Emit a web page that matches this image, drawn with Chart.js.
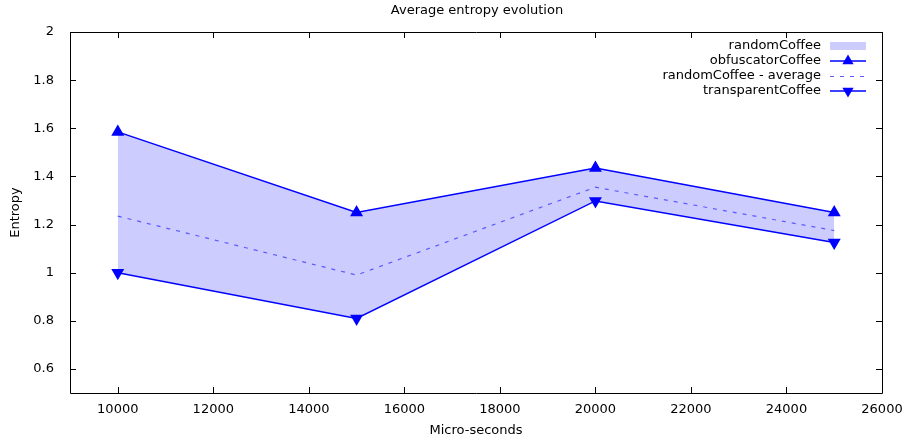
<!DOCTYPE html>
<html>
<head>
<meta charset="utf-8">
<script src="https://cdn.jsdelivr.net/npm/chart.js@4/dist/chart.umd.min.js"></script>
<style>
  html, body { margin: 0; padding: 0; background: #fff; }
  #wrap { width: 907px; height: 443px; }
</style>
</head>
<body>
<div id="wrap"><canvas id="entropyChart" width="907" height="443"></canvas></div>
<script>
// values
const xValues = [10000, 15000, 20000, 25000];
const obfuscatorCoffee = [1.585, 1.25, 1.435, 1.25];
const transparentCoffee = [1.0, 0.81, 1.298, 1.125];
const randomAverage = [1.235, 0.99, 1.355, 1.175];

const xTicks = [10000, 12000, 14000, 16000, 18000, 20000, 22000, 24000, 26000];
const yTicks = [0.6, 0.8, 1, 1.2, 1.4, 1.6, 1.8, 2];
const yTickLabels = ["0.6", "0.8", "1", "1.2", "1.4", "1.6", "1.8", "2"];

const FONT = "DejaVu Sans";
const FSIZE = 13;
const BLUE = "#0000ff";
const FILL = "#ccccff";

function pts(ys) {
  return xValues.map((x, i) => ({ x: x, y: ys[i] }));
}

// gnuplot-ish frame, inward ticks, title and legend
const gnuplotLook = {
  id: "gnuplotLook",
  afterDraw(chart) {
    const ctx = chart.ctx;
    const a = chart.chartArea;
    const xs = chart.scales.x, ys = chart.scales.y;
    ctx.save();
    ctx.strokeStyle = "#000";
    ctx.lineWidth = 1;
    ctx.beginPath();
    ctx.rect(Math.round(a.left) + 0.5, Math.round(a.top) + 0.5,
             Math.round(a.right - a.left), Math.round(a.bottom - a.top));
    ctx.stroke();
    const t = 6;
    ctx.beginPath();
    xTicks.forEach((v) => {
      const px = Math.round(xs.getPixelForValue(v)) + 0.5;
      ctx.moveTo(px, a.bottom); ctx.lineTo(px, a.bottom - t);
      ctx.moveTo(px, a.top); ctx.lineTo(px, a.top + t);
    });
    yTicks.forEach((v) => {
      const py = Math.round(ys.getPixelForValue(v)) + 0.5;
      ctx.moveTo(a.left, py); ctx.lineTo(a.left + t, py);
      ctx.moveTo(a.right, py); ctx.lineTo(a.right - t, py);
    });
    ctx.stroke();

    // title
    ctx.fillStyle = "#000";
    ctx.font = FSIZE + "px '" + FONT + "'";
    ctx.textAlign = "center";
    ctx.textBaseline = "middle";
    ctx.fillText("Average entropy evolution", 477, 11);

    // legend
    const items = [
      { label: "randomCoffee", kind: "box" },
      { label: "obfuscatorCoffee", kind: "up" },
      { label: "randomCoffee - average", kind: "dash" },
      { label: "transparentCoffee", kind: "down" }
    ];
    const textRight = 821, s0 = 830, s1 = 866;
    items.forEach((it, i) => {
      const y = 46 + i * 15;
      ctx.fillStyle = "#000";
      ctx.textAlign = "right";
      ctx.fillText(it.label, textRight, y);
      if (it.kind === "box") {
        ctx.fillStyle = FILL;
        ctx.fillRect(s0, y - 4, s1 - s0, 8);
      } else if (it.kind === "dash") {
        ctx.strokeStyle = "#5a5aff";
        ctx.lineWidth = 1.2;
        ctx.setLineDash([4, 6]);
        ctx.beginPath(); ctx.moveTo(s0, y + 0.5); ctx.lineTo(s1, y + 0.5); ctx.stroke();
        ctx.setLineDash([]);
      } else {
        ctx.strokeStyle = BLUE;
        ctx.lineWidth = 1.5;
        ctx.beginPath(); ctx.moveTo(s0, y); ctx.lineTo(s1, y); ctx.stroke();
        ctx.fillStyle = BLUE;
        const cx = (s0 + s1) / 2, r = 6.5;
        ctx.beginPath();
        if (it.kind === "up") {
          ctx.moveTo(cx, y - r); ctx.lineTo(cx + r * 0.866, y + r / 2); ctx.lineTo(cx - r * 0.866, y + r / 2);
        } else {
          ctx.moveTo(cx, y + r); ctx.lineTo(cx + r * 0.866, y - r / 2); ctx.lineTo(cx - r * 0.866, y - r / 2);
        }
        ctx.closePath(); ctx.fill();
      }
    });
    ctx.restore();
  }
};

new Chart(document.getElementById("entropyChart"), {
  type: "line",
  data: {
    datasets: [
      {
        label: "randomCoffee",
        data: pts(obfuscatorCoffee),
        borderWidth: 0,
        borderColor: "rgba(0,0,0,0)",
        pointRadius: 0,
        backgroundColor: FILL,
        fill: 3,
        order: 10
      },
      {
        label: "obfuscatorCoffee",
        data: pts(obfuscatorCoffee),
        borderColor: BLUE,
        backgroundColor: BLUE,
        borderWidth: 1.5,
        pointStyle: "triangle",
        pointRadius: 6,
        fill: false,
        order: 1
      },
      {
        label: "randomCoffee - average",
        data: pts(randomAverage),
        borderColor: "#5a5aff",
        borderWidth: 1.2,
        borderDash: [4, 6],
        pointRadius: 0,
        fill: false,
        order: 2
      },
      {
        label: "transparentCoffee",
        data: pts(transparentCoffee),
        borderColor: BLUE,
        backgroundColor: BLUE,
        borderWidth: 1.5,
        pointStyle: "triangle",
        pointRotation: 180,
        pointRadius: 6,
        fill: false,
        order: 1
      }
    ]
  },
  options: {
    responsive: false,
    animation: false,
    layout: { padding: { top: 32, right: 25, left: 0, bottom: 0 } },
    plugins: {
      legend: { display: false },
      title: { display: false },
      tooltip: { enabled: false }
    },
    scales: {
      x: {
        type: "linear",
        min: 9000,
        max: 26000,
        afterBuildTicks: (s) => { s.ticks = xTicks.map((v) => ({ value: v })); },
        afterFit: (s) => { s.height = 50; },
        grid: { display: false },
        border: { display: false },
        ticks: { color: "#000", font: { family: FONT, size: FSIZE }, padding: 1, maxRotation: 0, callback: (v) => String(v) },
        title: { display: true, text: "Micro-seconds", color: "#000", font: { family: FONT, size: FSIZE }, padding: { top: 4, bottom: 5 } }
      },
      y: {
        min: 0.5,
        max: 2,
        afterBuildTicks: (s) => { s.ticks = yTicks.map((v) => ({ value: v })); },
        afterFit: (s) => { s.width = 70; },
        grid: { display: false },
        border: { display: false },
        ticks: { color: "#000", font: { family: FONT, size: FSIZE }, padding: 8, callback: (v) => yTickLabels[yTicks.indexOf(v)] },
        title: { display: true, text: "Entropy", color: "#000", font: { family: FONT, size: FSIZE }, padding: { top: 8, bottom: 4 } }
      }
    }
  },
  plugins: [gnuplotLook]
});
</script>
</body>
</html>
